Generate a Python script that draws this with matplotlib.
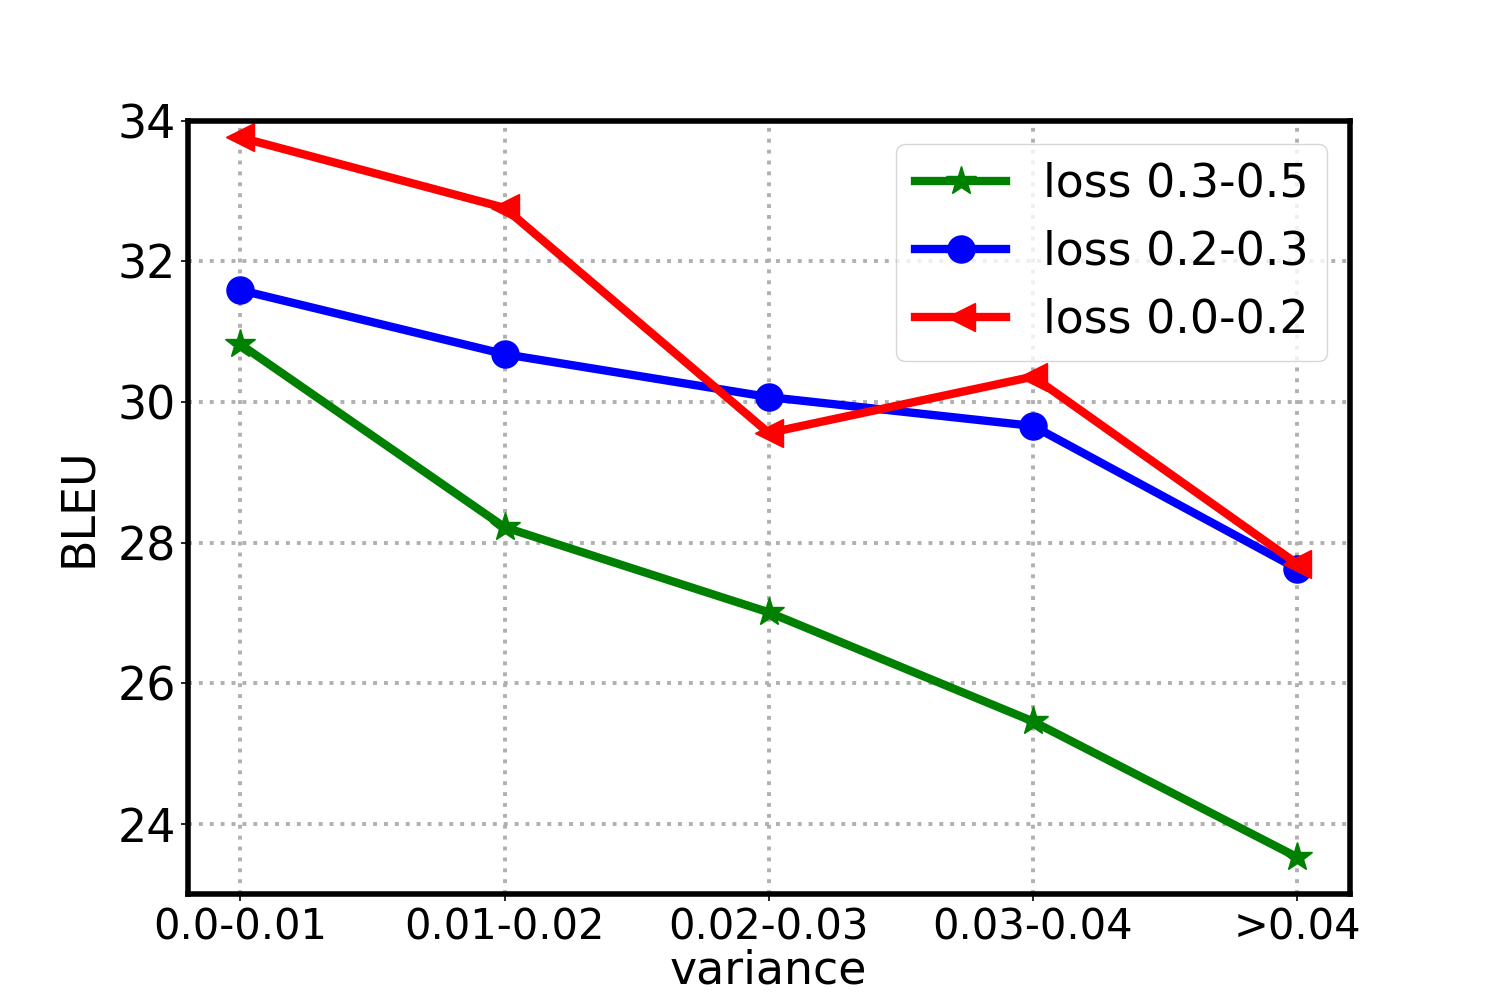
import matplotlib
matplotlib.use("Agg")
import matplotlib.pyplot as plt

# ---------------------------------------------------------------- data
categories = ["0.0-0.01", "0.01-0.02", "0.02-0.03", "0.03-0.04", ">0.04"]
loss_03_05 = [30.82, 28.22, 27.01, 25.46, 23.53]
loss_02_03 = [31.59, 30.68, 30.07, 29.66, 27.63]
loss_00_02 = [33.76, 32.76, 29.56, 30.36, 27.70]
yticks = [24, 26, 28, 30, 32, 34]

# ---------------------------------------------------------------- plot
plt.rcParams.update({"font.family": "DejaVu Sans"})
fig, ax = plt.subplots(figsize=(15, 10.05), dpi=100)
fig.subplots_adjust(left=0.125, right=0.9, top=0.88, bottom=0.11)

x = list(range(len(categories)))
ax.plot(x, loss_03_05, color="green", marker="*", ms=22, lw=6, label="loss 0.3-0.5")
ax.plot(x, loss_02_03, color="blue", marker="o", ms=19.5, lw=6, label="loss 0.2-0.3")
ax.plot(x, loss_00_02, color="red", marker="<", ms=20, lw=6, label="loss 0.0-0.2")

ax.set_xticks(x)
ax.set_xticklabels(categories)
ax.set_yticks(yticks)
ax.set_xlim(-0.2, 4.2)
ax.set_ylim(23, 34)
ax.tick_params(axis="y", labelsize=33, length=5, width=1.2)
ax.tick_params(axis="x", labelsize=30, length=5, width=1.2)
ax.set_xlabel("variance", fontsize=33, labelpad=0)
ax.set_ylabel("BLEU", fontsize=33, labelpad=12)

ax.grid(True, color="#b0b0b0", ls=(0, (1, 1.8)), lw=2.8)
ax.set_axisbelow(True)
for spine in ax.spines.values():
    spine.set_linewidth(4)

ax.legend(loc="upper right", fontsize=33, handlelength=2.0)

fig.savefig("out.png", dpi=100, facecolor="white")
